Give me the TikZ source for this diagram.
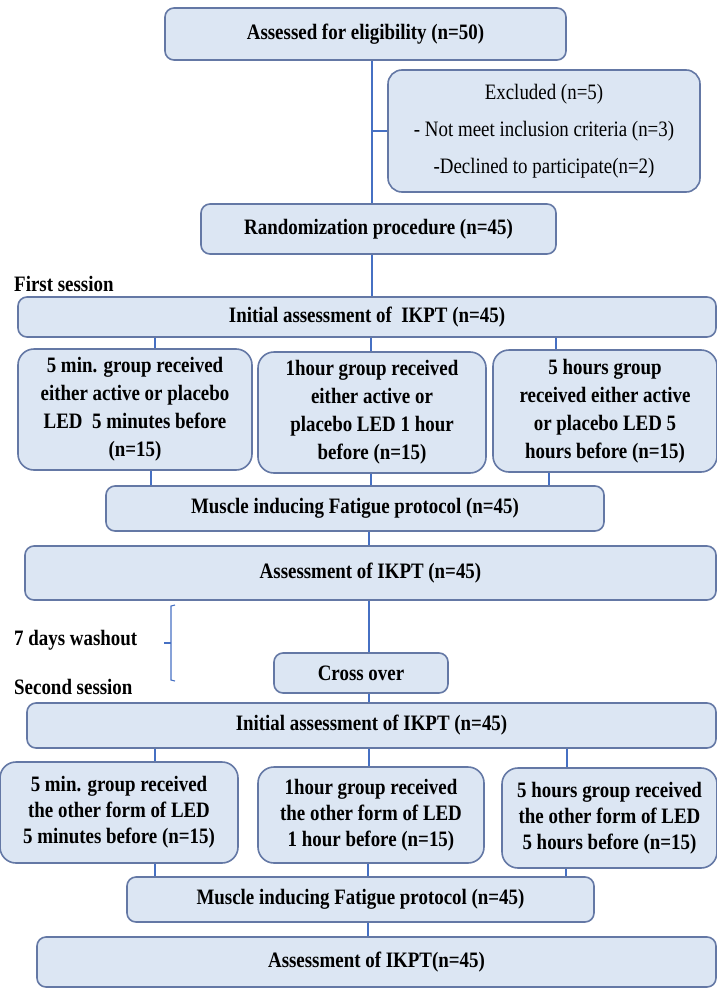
\documentclass[tikz,border=0pt]{standalone}
\usepackage{fontspec}
\setmainfont{Liberation Serif}[FakeStretch=0.86]
\definecolor{boxfill}{RGB}{220,230,243}
\definecolor{boxdraw}{RGB}{100,120,165}
\definecolor{linec}{RGB}{70,112,195}
\tikzset{
  box/.style={draw=boxdraw, line width=1.6pt, fill=boxfill, rounded corners=9pt,
    inner sep=0pt, align=center, font=\fontsize{22}{28}\selectfont\bfseries},
  grp/.style={box, rounded corners=16pt},
  conn/.style={draw=linec, line width=1.3pt},
  lbl/.style={anchor=base west, inner sep=0pt, font=\fontsize{22}{26}\selectfont\bfseries}
}
\begin{document}
\begin{tikzpicture}[x=1pt,y=-1pt]
\useasboundingbox (0,0) rectangle (717,990);

% first part
\node[box, minimum width=401pt, minimum height=52pt] (elig) at (365.5,34) {Assessed for eligibility (n=50)};
\node[box, rounded corners=14pt, minimum width=312pt, minimum height=122pt,
  font=\fontsize{22}{37}\selectfont] (excl) at (544,131)
  {Excluded (n=5)\\- Not meet inclusion criteria (n=3)\\-Declined to participate(n=2)};
\node[box, minimum width=355pt, minimum height=50pt] (rand) at (378.5,229) {Randomization procedure (n=45)};
\node[lbl] (first) at (14,291) {First session};
\node[box, minimum width=698pt, minimum height=40pt] (init1) at (367,317) {\raisebox{-4pt}{Initial assessment of\ \ IKPT (n=45)}};

\node[grp, minimum width=234pt, minimum height=121pt] (g1a) at (135,409.5)
  {5 min. group received\\either active or placebo\\LED\ \ 5 minutes before\\(n=15)};
\node[grp, minimum width=228pt, minimum height=121pt] (g1b) at (372,412.5)
  {1hour group received\\either active or\\placebo LED 1 hour\\before (n=15)};
\node[grp, minimum width=224pt, minimum height=122pt] (g1c) at (605,411)
  {5 hours group\\received either active\\or placebo LED 5\\hours before (n=15)};

\node[box, minimum width=498pt, minimum height=45pt] (mus1) at (355,508.5) {Muscle inducing Fatigue protocol (n=45)};
\node[box, minimum width=691pt, minimum height=54pt] (ass1) at (370.5,573) {Assessment of IKPT (n=45)};

\node[lbl] (wash) at (14,645) {7 days washout};
\node[box, minimum width=174pt, minimum height=40pt] (cross) at (361,673) {Cross over};
\node[lbl] (second) at (14,694) {Second session};

% second part
\node[box, minimum width=689pt, minimum height=45pt] (init2) at (371.5,725.5) {Initial assessment of IKPT (n=45)};
\node[grp, minimum width=238pt, minimum height=101pt, font=\fontsize{22}{26}\selectfont\bfseries] (g2a) at (119,812.5)
  {5 min. group received\\the other form of LED\\5 minutes before (n=15)};
\node[grp, minimum width=226pt, minimum height=96pt, font=\fontsize{22}{26}\selectfont\bfseries] (g2b) at (371,815)
  {1hour group received\\the other form of LED\\1 hour before (n=15)};
\node[grp, minimum width=215pt, minimum height=100pt, font=\fontsize{22}{26}\selectfont\bfseries] (g2c) at (609.5,818)
  {5 hours group received\\the other form of LED\\5 hours before (n=15)};
\node[box, minimum width=467pt, minimum height=45pt] (mus2) at (360.5,899.5) {Muscle inducing Fatigue protocol (n=45)};
\node[box, minimum width=679pt, minimum height=50pt] (ass2) at (376.5,962) {Assessment of IKPT(n=45)};

% x positions of connectors
\coordinate (xt) at (372,0);
\coordinate (xa) at (155,0);
\coordinate (xb) at (371,0);
\coordinate (xc) at (556,0);
\coordinate (xa2) at (151,0);
\coordinate (xc2) at (549,0);
\coordinate (xm) at (369,0);
\coordinate (xd) at (155,0);
\coordinate (xe) at (567,0);
\coordinate (xf) at (368,0);
\coordinate (xg) at (566,0);

\draw[conn] (elig.south -| xt) -- (rand.north -| xt);
\draw[conn] (excl.west -| xt) -- (excl.west);
\draw[conn] (rand.south -| xt) -- (init1.north -| xt);
\draw[conn] (init1.south -| xa) -- (g1a.north -| xa);
\draw[conn] (init1.south -| xb) -- (g1b.north -| xb);
\draw[conn] (init1.south -| xc) -- (g1c.north -| xc);
\draw[conn] (g1a.south -| xa2) -- (mus1.north -| xa2);
\draw[conn] (g1b.south -| xb) -- (mus1.north -| xb);
\draw[conn] (g1c.south -| xc2) -- (mus1.north -| xc2);
\draw[conn] (mus1.south -| xm) -- (ass1.north -| xm);
\draw[conn] (ass1.south -| xm) -- (cross.north -| xm);
\draw[conn] (cross.south -| xm) -- (init2.north -| xm);
\draw[conn] (init2.south -| xd) -- (g2a.north -| xd);
\draw[conn] (init2.south -| xm) -- (g2b.north -| xm);
\draw[conn] (init2.south -| xe) -- (g2c.north -| xe);
\draw[conn] (g2a.south -| xd) -- (mus2.north -| xd);
\draw[conn] (g2b.south -| xf) -- (mus2.north -| xf);
\draw[conn] (g2c.south -| xg) -- (mus2.north -| xg);
\draw[conn] (mus2.south -| xf) -- (ass2.north -| xf);

% washout brace
\coordinate (bt) at (175,605);
\coordinate (bb) at (175,681);
\coordinate (bm) at (164,643);
\draw[conn, line width=1.1pt] (bt) -- (171,606) -- (171,680) -- (bb);
\draw[conn, line width=1.1pt] (bm) -- (171,643);
\end{tikzpicture}
\end{document}
